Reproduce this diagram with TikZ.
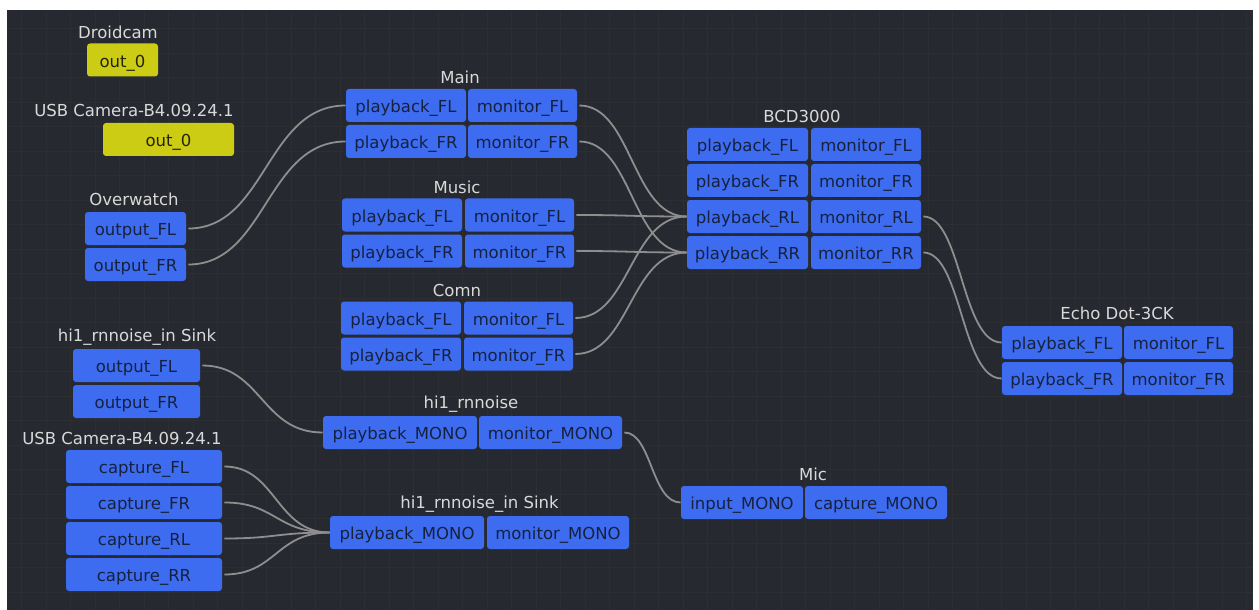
\documentclass[tikz,border=0pt]{standalone}
\usepackage{fontspec}
\setmainfont{DejaVu Sans}
\usetikzlibrary{calc}
\definecolor{canvas}{HTML}{272930}
\definecolor{gridline}{HTML}{2D2E32}
\definecolor{portblue}{HTML}{3D6CF0}
\definecolor{portink}{HTML}{16213F}
\definecolor{camyellow}{HTML}{CCCC14}
\definecolor{camink}{HTML}{24240C}
\definecolor{titlegray}{HTML}{D9D9D9}
\definecolor{wiregray}{HTML}{8E8E8E}
\newcommand{\portfont}{\fontsize{8.25}{9.9}\selectfont}
\tikzset{port/.style={rectangle, rounded corners=1.5pt, fill=portblue, text=portink,
  inner sep=0pt, minimum height=16.5pt, text height=9.3pt, text depth=2pt, font=\portfont},
camport/.style={port, fill=camyellow, text=camink},
title/.style={text=titlegray, inner sep=0pt, font=\portfont},
wire/.style={draw=wiregray, line width=0.9pt, shorten <=1pt,
to path={ let \p1=(\tikztostart),\p2=(\tikztotarget),
\n1={0.5*(\x2-\x1)}
in .. controls ($(\p1)+(\n1,0)$) and ($(\p2)-(\n1,0)$) .. (\p2) \tikztonodes}}}

\begin{document}
\begin{tikzpicture}[x=0.5pt, y=-0.5pt]
        \useasboundingbox (0,0) rectangle (1259,610);
        \fill[white] (0,0) rectangle (1259,610);
        \fill[canvas] (7,10) rectangle (1253,610);
        \foreach \gx in {0,...,50}
            \draw[gridline, line width=0.4pt] (21.5+24.5*\gx,10) -- (21.5+24.5*\gx,610);
        \foreach \gy in {0,...,23}
            \draw[gridline, line width=0.4pt] (7,28.5+24.5*\gy) -- (1253,28.5+24.5*\gy);

        % cameras
        \node[title] (droidt) at (118,32) {Droidcam};
        \node[camport, minimum width=35.5pt] (droid) at (122.5,60) {out\_0};
        \node[title] (usbt) at (134,110) {USB Camera-B4.09.24.1};
        \node[camport, minimum width=65.5pt] (usbout) at (168.5,139.5) {out\_0};

        \node[title] (owt) at (134,199) {Overwatch};
        \node[port, minimum width=50.5pt] (owfl) at (135.5,228.5) {output\_FL};
        \node[port, minimum width=50.5pt] (owfr) at (135.5,264.5) {output\_FR};

        \node[title] (sinkt) at (137,337) {hi1\_rnnoise\_in Sink};
        \node[port, minimum width=63.5pt] (sinkofl) at (136.5,365.5) {output\_FL};
        \node[port, minimum width=63.5pt] (sinkofr) at (136.5,401.5) {output\_FR};

        \node[title] (capt) at (122,438) {USB Camera-B4.09.24.1};
        \node[port, minimum width=78pt] (capfl) at (144,466.5) {capture\_FL};
        \node[port, minimum width=78pt] (capfr) at (144,502.5) {capture\_FR};
        \node[port, minimum width=78pt] (caprl) at (144,538.5) {capture\_RL};
        \node[port, minimum width=78pt] (caprr) at (144,574.5) {capture\_RR};

        % sinks
        \node[title] (maint) at (460,77) {Main};
        \node[port, minimum width=60pt] (mainpfl) at (406,105.5) {playback\_FL};
        \node[port, minimum width=54.5pt] (mainmfl) at (522.5,105.5) {monitor\_FL};
        \node[port, minimum width=60pt] (mainpfr) at (406,141.5) {playback\_FR};
        \node[port, minimum width=54.5pt] (mainmfr) at (522.5,141.5) {monitor\_FR};

        \node[title] (must) at (457,187) {Music};
        \node[port, minimum width=60pt] (muspfl) at (402,215) {playback\_FL};
        \node[port, minimum width=54.5pt] (musmfl) at (519.5,215) {monitor\_FL};
        \node[port, minimum width=60pt] (muspfr) at (402,251) {playback\_FR};
        \node[port, minimum width=54.5pt] (musmfr) at (519.5,251) {monitor\_FR};

        \node[title] (comnt) at (457,290) {Comn};
        \node[port, minimum width=60pt] (comnpfl) at (401,318) {playback\_FL};
        \node[port, minimum width=54.5pt] (comnmfl) at (518.5,318) {monitor\_FL};
        \node[port, minimum width=60pt] (comnpfr) at (401,354) {playback\_FR};
        \node[port, minimum width=54.5pt] (comnmfr) at (518.5,354) {monitor\_FR};

        \node[title] (rnt) at (471,404) {hi1\_rnnoise};
        \node[port, minimum width=77pt] (rnpm) at (400,432.5) {playback\_MONO};
        \node[port, minimum width=71.5pt] (rnmm) at (550.5,432.5) {monitor\_MONO};

        \node[title] (insinkt) at (479.5,504) {hi1\_rnnoise\_in Sink};
        \node[port, minimum width=77pt] (insinkpm) at (407,532.5) {playback\_MONO};
        \node[port, minimum width=71pt] (insinkmm) at (558,532.5) {monitor\_MONO};

        \node[title] (bcdt) at (802,116) {BCD3000};
        \node[port, minimum width=60.5pt] (bcdpfl) at (747.5,144.5) {playback\_FL};
        \node[port, minimum width=55pt] (bcdmfl) at (866,144.5) {monitor\_FL};
        \node[port, minimum width=60.5pt] (bcdpfr) at (747.5,180.5) {playback\_FR};
        \node[port, minimum width=55pt] (bcdmfr) at (866,180.5) {monitor\_FR};
        \node[port, minimum width=60.5pt] (bcdprl) at (747.5,216.5) {playback\_RL};
        \node[port, minimum width=55pt] (bcdmrl) at (866,216.5) {monitor\_RL};
        \node[port, minimum width=60.5pt] (bcdprr) at (747.5,252.5) {playback\_RR};
        \node[port, minimum width=55pt] (bcdmrr) at (866,252.5) {monitor\_RR};

        \node[title] (micht) at (813,474) {Mic};
        \node[port, minimum width=61pt] (micim) at (742,502.5) {input\_MONO};
        \node[port, minimum width=71pt] (miccm) at (876,502.5) {capture\_MONO};

        \node[title] (echot) at (1117,313) {Echo Dot-3CK};
        \node[port, minimum width=60pt] (echopfl) at (1062,342.5) {playback\_FL};
        \node[port, minimum width=54.5pt] (echomfl) at (1178.5,342.5) {monitor\_FL};
        \node[port, minimum width=60pt] (echopfr) at (1062,378.5) {playback\_FR};
        \node[port, minimum width=54.5pt] (echomfr) at (1178.5,378.5) {monitor\_FR};

        % links
        \draw (owfl.east) edge[wire] (mainpfl.west)
              (owfr.east) edge[wire] (mainpfr.west)

              (mainmfl.east) edge[wire] (bcdprl.west)
              (mainmfr.east) edge[wire] (bcdprr.west)
              (musmfl.east) edge[wire] (bcdprl.west)
              (musmfr.east) edge[wire] (bcdprr.west)
              (comnmfl.east) edge[wire] (bcdprl.west)
              (comnmfr.east) edge[wire] (bcdprr.west)

              (bcdmrl.east) edge[wire] (echopfl.west)
              (bcdmrr.east) edge[wire] (echopfr.west)

              (sinkofl.east) edge[wire] (rnpm.west)
              (rnmm.east) edge[wire] (micim.west)

              (capfl.east) edge[wire] (insinkpm.west)
              (capfr.east) edge[wire] (insinkpm.west)
              (caprl.east) edge[wire] (insinkpm.west)
              (caprr.east) edge[wire] (insinkpm.west)
              ;
\end{tikzpicture}
\end{document}
